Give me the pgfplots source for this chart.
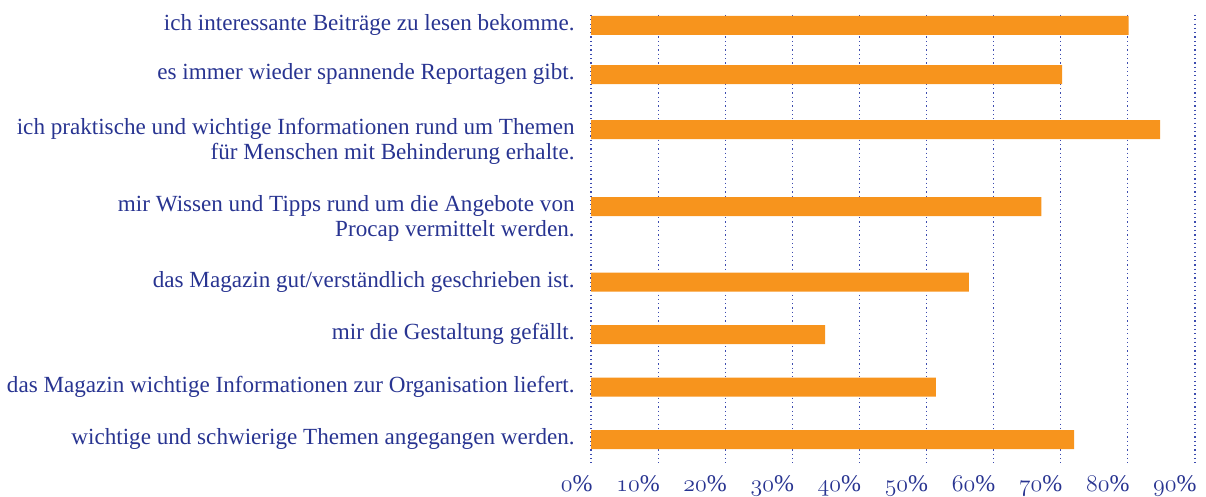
\documentclass[border=0pt]{standalone}
\usepackage{fontspec}
\setmainfont{Liberation Serif}
\usepackage{pgfplots}
\pgfplotsset{compat=1.18}
\definecolor{txtblue}{RGB}{40,52,145}
\definecolor{gridblue}{RGB}{60,75,175}
\definecolor{barorange}{RGB}{247,148,29}
\newcommand{\lab}[2]{\begin{tabular}[t]{@{}r@{}}#1\\#2\end{tabular}}
\newcommand{\osn}[1]{{\usefont{OML}{cmm}{m}{it}#1}}
\begin{document}
\begin{tikzpicture}
\begin{axis}[
  scale only axis,
  width=301.95bp, height=224bp,
  xmin=0, xmax=90,
  ymin=15, ymax=463,
  y dir=reverse,
  clip=false,
  axis line style={draw=none},
  major tick length=0pt,
  xtick={0,10,...,90},
  xticklabels={\osn{0}\%,\osn{10}\%,\osn{20}\%,\osn{30}\%,\osn{40}\%,\osn{50}\%,\osn{60}\%,\osn{70}\%,\osn{80}\%,\osn{90}\%},
  xticklabel style={anchor=base east, inner sep=0pt, yshift=-14bp, xshift=1bp, text=txtblue, font=\fontsize{12}{13}\selectfont},
  ytick={25.5,74.5,129.5,206.5,282,334.5,387,439.5},
  yticklabels={
    ich interessante Beiträge zu lesen bekomme.,
    es immer wieder spannende Reportagen gibt.,
    {\lab{ich praktische und wichtige Informationen rund um Themen}{für Menschen mit Behinderung erhalte.}},
    {\lab{mir Wissen und Tipps rund um die Angebote von}{Procap vermittelt werden.}},
    das Magazin gut/verständlich geschrieben ist.,
    mir die Gestaltung gefällt.,
    das Magazin wichtige Informationen zur Organisation liefert.,
    wichtige und schwierige Themen angegangen werden.
  },
  yticklabel style={anchor=base east, inner sep=0pt, xshift=-8bp, yshift=-2.6bp, text=txtblue, font=\fontsize{11.6}{12.55}\selectfont},
  xmajorgrids,
  major grid style={color=gridblue, line width=0.6bp, dash pattern=on 0.6bp off 1.55bp},
]
\path (axis cs:-88.08,0) rectangle (axis cs:91.65,496);
\addplot[xbar, bar width=9.5bp, fill=barorange, draw=none, bar shift=0pt] coordinates {
  (80.1,25.5) (70.2,74.5) (84.8,129.5) (67.1,206.5) (56.3,282) (34.9,334.5) (51.4,387) (72.0,439.5)
};
\end{axis}
\end{tikzpicture}
\end{document}
